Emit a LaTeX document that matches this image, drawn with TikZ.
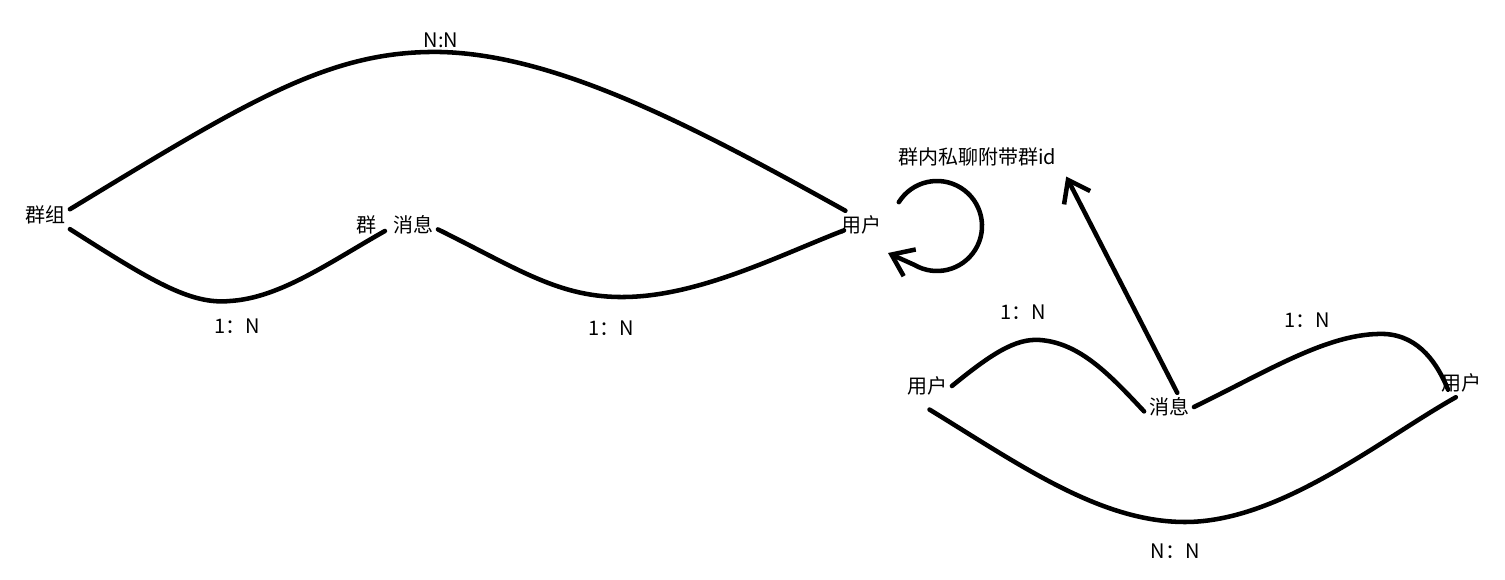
\documentclass[tikz,border=0pt]{standalone}
\usepackage{fontspec}
\setmainfont{Noto Sans CJK SC}
\usetikzlibrary{arrows.meta,calc}

\begin{document}
\begin{tikzpicture}[x=0.75pt,y=-0.75pt,font=\fontsize{15pt}{18pt}\selectfont,
                line width=3.4pt,line cap=round,
                ent/.style={inner sep=2pt},
                barb/.style={-{Straight Barb[length=15pt,width=22pt]}}]
                \useasboundingbox (0,0) rectangle (1505,580);
                % entities
                \node[ent] (qz) at (45,215) {群组};
                \node[ent] (qn) at (366,225) {群};
                \node[ent] (xx1) at (413,225) {消息};
                \node[ent] (yh1) at (861,225) {用户};
                \node[ent] (note) at (977,157) {群内私聊附带群id};
                \node[ent] (yh2) at (927,386) {用户};
                \node[ent] (xx2) at (1169,407) {消息};
                \node[ent] (yh3) at (1461,383) {用户};

                % relation labels
                \node (nn1) at (441,40) {N:N};
                \foreach \x/\y [count=\i] in {237/326,611/328,1023/312,1307/320}
                \node (r\i) at (\x,\y) {1：N};
                \node (nn2) at (1175,551) {N：N};

                % upper part
                \draw (qz.13) .. controls (250,100) and (330,50) .. (441,52)
                      .. controls (560,55) and (700,130) .. ([shift={(7pt,0pt)}]yh1.north west);
                \draw (qz.south east) .. controls (150,280) and (190,305) .. (230,301)
                      .. controls (280,298) and (330,262) .. ([shift={(3pt,-4.5pt)}]qn.east);
                \draw (xx1.-10) .. controls (520,270) and (560,298) .. (625,297)
                      .. controls (700,296) and (780,255) .. ([shift={(6pt,-4pt)}]yh1.west);

                \coordinate (lp) at ($(yh1)+(76,1)$);
                \draw[barb] ($(lp)+(212:45)$) arc[start angle=212,end angle=480,radius=45]
                      -- ($(lp)+(-49,27)$);

                % lower part
                \draw (yh2.east) .. controls (990,355) and (1015,338) .. (1040,340)
                      .. controls (1080,343) and (1110,375) .. (xx2.-170);
                \draw (xx2.east) .. controls (1270,370) and (1330,332) .. (1385,334)
                      .. controls (1420,336) and (1438,365) .. ([shift={(9pt,-5pt)}]yh3.west);
                \draw ([yshift=-7pt]yh2.-80) .. controls (1020,465) and (1100,522) .. (1185,522)
                      .. controls (1280,522) and (1380,440) .. (yh3.-110);
                \draw[barb] (xx2.60) -- ([shift={(4pt,-4pt)}]note.south east);

            \end{tikzpicture}
\end{document}
